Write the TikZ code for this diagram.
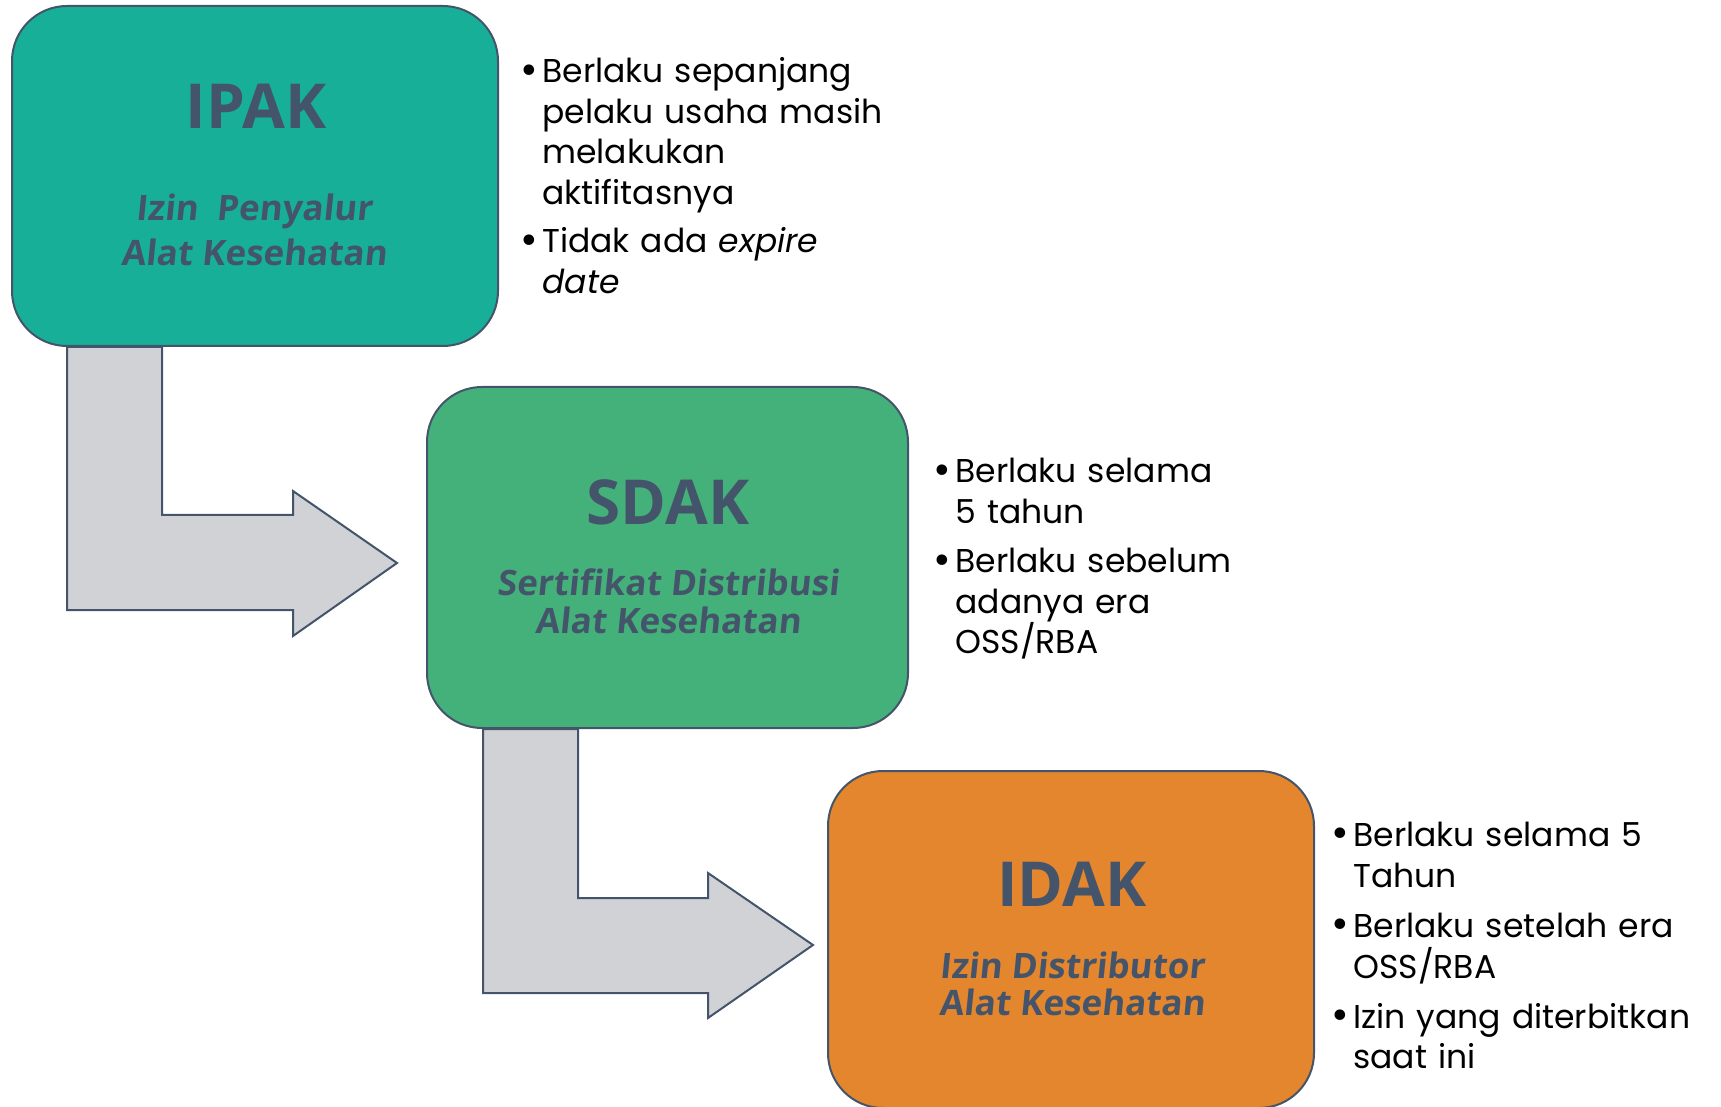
\documentclass[tikz,border=0pt]{standalone}
\usepackage{fontspec}
\setmainfont{Poppins}
\newfontfamily\boxfont{Open Sans}
\newfontfamily\namefont{Open Sans}[FakeSlant=0.1]

\definecolor{slate}{HTML}{44546A}
\definecolor{tealbox}{HTML}{17AF97}
\definecolor{greenbox}{HTML}{44B17A}
\definecolor{orangebox}{HTML}{E3862E}
\definecolor{arrowgray}{HTML}{D0D2D6}

\newcommand\notepoint[1]{\hangindent=10pt\hangafter=1\noindent\makebox[10pt][l]{\hspace{-0.8pt}\raisebox{-0.7pt}{\scalebox{1.3}{\textbullet}}}#1\par}

\tikzset{
  licbox/.style={draw=slate, line width=1pt, rounded corners=27.5pt, inner sep=0pt},
  abbr/.style={font=\boxfont\bfseries\fontsize{31}{31}\selectfont, text=slate, anchor=base, inner sep=0pt},
  fullname/.style={font=\namefont\bfseries\fontsize{17.5}{#1}\selectfont, text=slate, anchor=base, align=center, inner sep=0pt},
  notes/.style={font=\fontsize{16.5}{20.25}\selectfont, anchor=base west, inner sep=0pt, text width=#1},
  bentarrow/.style={draw=slate, line width=1pt, fill=arrowgray},
}

\begin{document}
\begin{tikzpicture}[x=0.5pt, y=-0.5pt]
        \clip (0,0) rectangle (1721,1107);

        % license boxes
        \node[licbox, fill=tealbox, minimum width=243pt, minimum height=170pt] at (255,176) (ipak) {};
        \node[licbox, fill=greenbox, minimum width=240.5pt, minimum height=170.5pt] at (667.5,557.5) (sdak) {};
        \node[licbox, fill=orangebox, minimum width=243pt, minimum height=168.5pt] at (1071,939.5) (idak) {};

        \node[abbr] at (256,129) (ipakA) {IPAK};
        \node[fullname=22.5] at (254,266) (ipakF) {Izin\ \ Penyalur\\Alat Kesehatan};
        \node[abbr] at (668,524) (sdakA) {SDAK};
        \node[fullname=19] at (668,633) (sdakF) {Sertifikat Distribusi\\Alat Kesehatan};
        \node[abbr] at (1072,906) (idakA) {IDAK};
        \node[fullname=18.5] at (1072,1015) (idakF) {Izin Distributor\\Alat Kesehatan};

        % bent arrows between the boxes
        \begin{scope}[shift={(ipak.south west)}]
            \draw[bentarrow] (56,0) -- (56,263) -- (282,263) -- (282,289) -- (386,216)
                -- (282,144) -- (282,168) -- (151,168) -- (151,0) -- cycle;
        \end{scope}
        \begin{scope}[shift={(sdak.south west)}]
            \draw[bentarrow] (57,0) -- (57,264) -- (282,264) -- (282,289) -- (387,216)
                -- (282,144) -- (282,169) -- (152,169) -- (152,0) -- cycle;
        \end{scope}

        % notes
        \node[notes=200pt] at (522,83) (ipakN) {\notepoint{Berlaku sepanjang\newline pelaku usaha masih\newline melakukan\newline aktifitasnya}\vspace{4pt}\notepoint{Tidak ada \textit{expire}\newline\textit{date}}};
        \node[notes=200pt] at (935,483) (sdakN) {\notepoint{Berlaku selama\newline 5 tahun}\vspace{4.5pt}\notepoint{Berlaku sebelum\newline adanya era\newline OSS/RBA}};
        \node[notes=200pt, font=\fontsize{16.5}{20.5}\selectfont] at (1333,846) (idakN) {\notepoint{Berlaku selama 5\newline Tahun}\vspace{4.5pt}\notepoint{Berlaku setelah era\newline OSS/RBA}\vspace{4.5pt}\notepoint{Izin yang diterbitkan\newline saat ini}};
    \end{tikzpicture}
\end{document}
